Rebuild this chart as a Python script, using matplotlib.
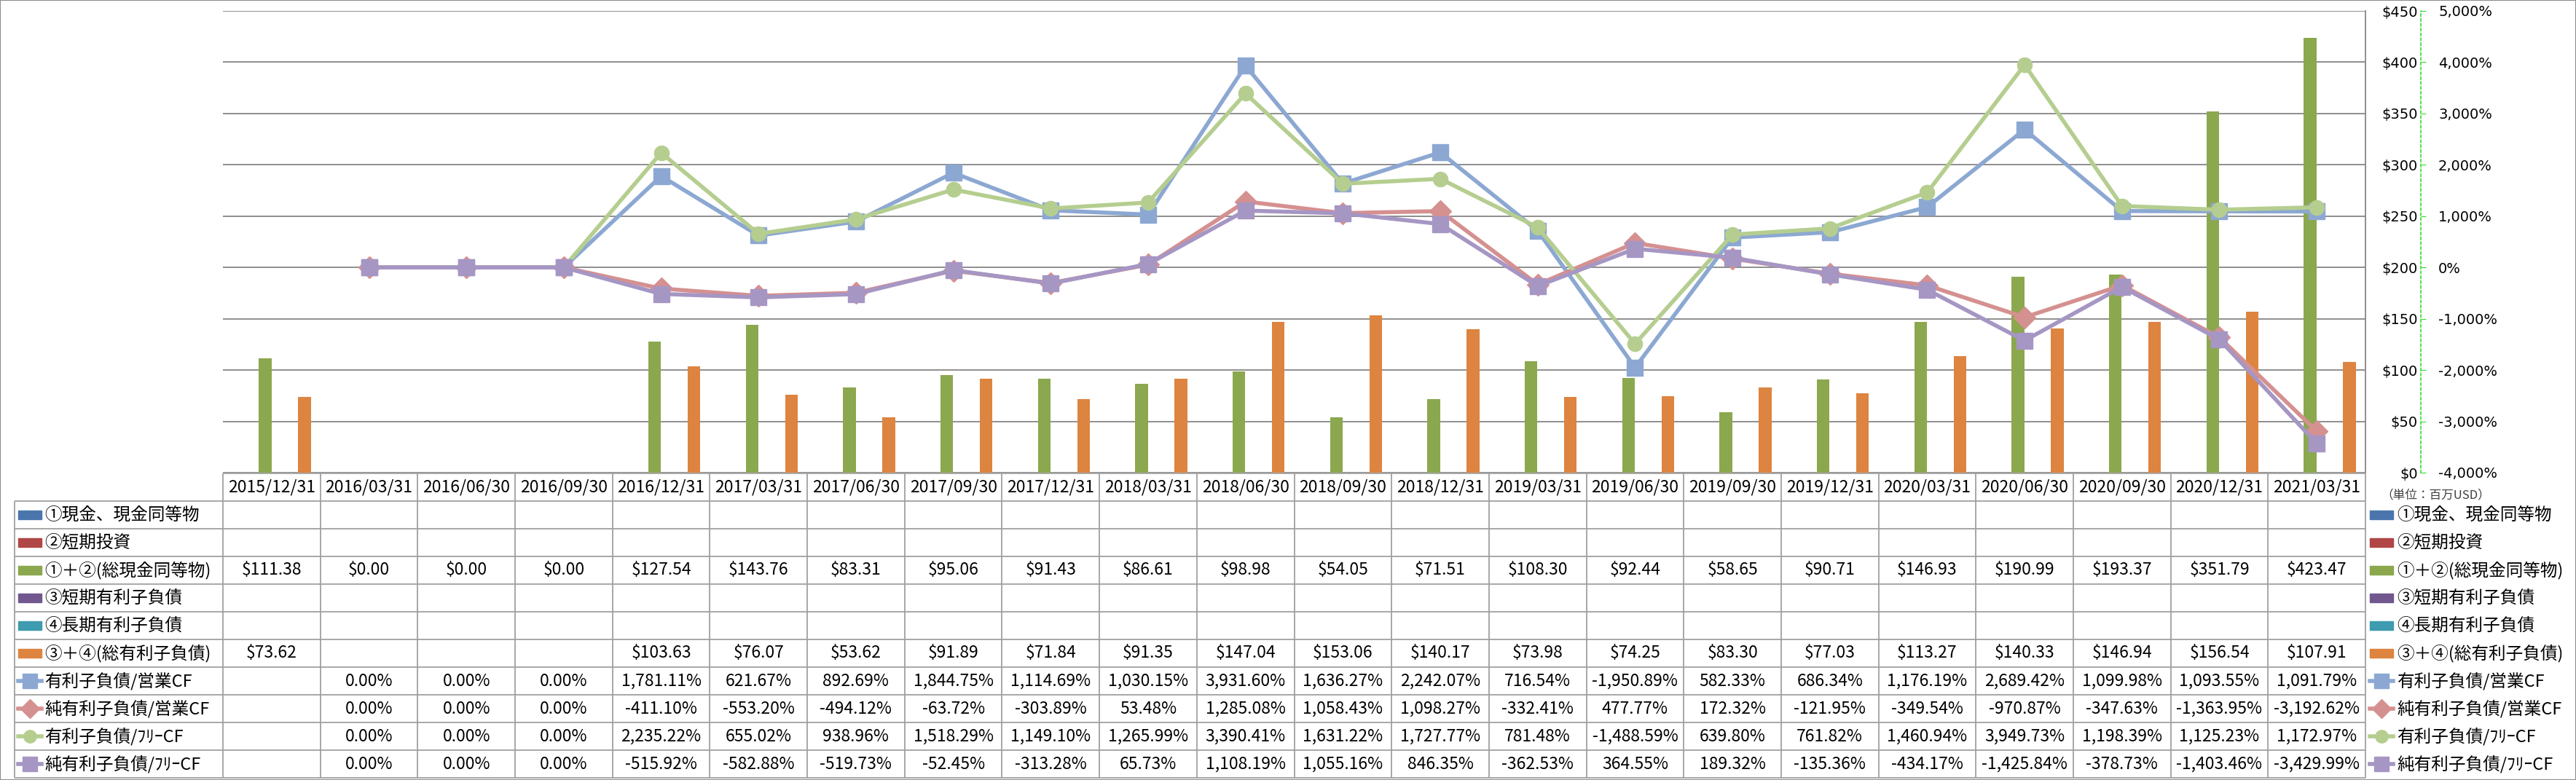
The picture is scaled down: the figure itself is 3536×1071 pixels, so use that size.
import numpy as np
import matplotlib
matplotlib.use("Agg")
import matplotlib.pyplot as plt
from matplotlib.patches import Rectangle
from matplotlib.ticker import FuncFormatter

# データ (単位: 百万USD, %)
dates = ["2015/12/31", "2016/03/31", "2016/06/30", "2016/09/30", "2016/12/31",
         "2017/03/31", "2017/06/30", "2017/09/30", "2017/12/31", "2018/03/31",
         "2018/06/30", "2018/09/30", "2018/12/31", "2019/03/31", "2019/06/30",
         "2019/09/30", "2019/12/31", "2020/03/31", "2020/06/30", "2020/09/30",
         "2020/12/31", "2021/03/31"]
N = None
cash = [N] * 22
short_inv = [N] * 22
cash_total = [111.38, 0.00, 0.00, 0.00, 127.54, 143.76, 83.31, 95.06, 91.43, 86.61,
              98.98, 54.05, 71.51, 108.30, 92.44, 58.65, 90.71, 146.93, 190.99,
              193.37, 351.79, 423.47]
short_debt = [N] * 22
long_debt = [N] * 22
debt_total = [73.62, N, N, N, 103.63, 76.07, 53.62, 91.89, 71.84, 91.35, 147.04,
              153.06, 140.17, 73.98, 74.25, 83.30, 77.03, 113.27, 140.33, 146.94,
              156.54, 107.91]
debt_ocf = [N, 0.00, 0.00, 0.00, 1781.11, 621.67, 892.69, 1844.75, 1114.69, 1030.15,
            3931.60, 1636.27, 2242.07, 716.54, -1950.89, 582.33, 686.34, 1176.19,
            2689.42, 1099.98, 1093.55, 1091.79]
net_debt_ocf = [N, 0.00, 0.00, 0.00, -411.10, -553.20, -494.12, -63.72, -303.89, 53.48,
                1285.08, 1058.43, 1098.27, -332.41, 477.77, 172.32, -121.95, -349.54,
                -970.87, -347.63, -1363.95, -3192.62]
debt_fcf = [N, 0.00, 0.00, 0.00, 2235.22, 655.02, 938.96, 1518.29, 1149.10, 1265.99,
            3390.41, 1631.22, 1727.77, 781.48, -1488.59, 639.80, 761.82, 1460.94,
            3949.73, 1198.39, 1125.23, 1172.97]
net_debt_fcf = [N, 0.00, 0.00, 0.00, -515.92, -582.88, -519.73, -52.45, -313.28, 65.73,
                1108.19, 1055.16, 846.35, -362.53, 364.55, 189.32, -135.36, -434.17,
                -1425.84, -378.73, -1403.46, -3429.99]

bar_names = ["①現金、現金同等物", "②短期投資", "①＋②(総現金同等物)",
             "③短期有利子負債", "④長期有利子負債", "③＋④(総有利子負債)"]
bar_data = [cash, short_inv, cash_total, short_debt, long_debt, debt_total]
bar_colors = ["#4A76AD", "#B04645", "#8BA84E", "#72578F", "#3F9BB0", "#DD8440"]

line_names = ["有利子負債/営業CF", "純有利子負債/営業CF",
              "有利子負債/ﾌﾘｰCF", "純有利子負債/ﾌﾘｰCF"]
line_data = [debt_ocf, net_debt_ocf, debt_fcf, net_debt_fcf]
line_colors = ["#8CA8D2", "#D59090", "#B5CE90", "#A696C4"]
line_markers = ["s", "D", "o", "s"]
line_msize = [16.5, 15.5, 14.5, 16.5]

W, H = 3536, 1071
FONT = ["Noto Sans CJK JP", "DejaVu Sans"]
GRID = "#868686"
TABLINE = "#A0A0A0"
LW = 4.0


def fx(px):
    return px / W


def fy(py):
    return 1 - py / H


def to_float(vals):
    return np.array([np.nan if v is None else v for v in vals], dtype=float)


fig = plt.figure(figsize=(W / 100, H / 100), dpi=100)
fig.patches.append(Rectangle((0, 0), 1, 1, transform=fig.transFigure,
                             fill=False, edgecolor="#8C8C8C", lw=1.5))

left, right, top, bottom = 306, 3247, 15, 649
ax = fig.add_axes([fx(left), fy(bottom), (right - left) / W, (bottom - top) / H])
n = len(dates)
x = np.arange(n)
ax.set_xlim(-0.5, n - 0.5)
ax.set_ylim(0, 450)

# 棒グラフ (6系列のクラスター)
slot = 0.1346
for i, (vals, c) in enumerate(zip(bar_data, bar_colors)):
    off = -3 * slot + (i + 0.5) * slot
    ax.bar(x + off, to_float(vals), width=0.13, color=c, zorder=2)

ax.set_xticks([])
ax.set_yticks(range(0, 451, 50))
ax.yaxis.set_major_formatter(FuncFormatter(lambda v, p: f"${v:,.0f}"))
ax.yaxis.grid(True, color=GRID, lw=1.3)
ax.set_axisbelow(True)
ax.spines["top"].set_visible(False)
ax.spines["bottom"].set_visible(False)
ax.spines["right"].set_color(GRID)
ax.spines["right"].set_linewidth(1.3)
ax.spines["left"].set_position(("axes", (3323 - left) / (right - left)))
ax.spines["left"].set_color("#33DD33")
ax.spines["left"].set_linestyle((0, (2, 2)))
ax.spines["left"].set_linewidth(1.2)
ax.tick_params(axis="y", direction="in", length=5, color="#33DD33", pad=3,
               labelsize=14, labelfontfamily="DejaVu Sans")

# 折れ線 (%軸)
ax2 = ax.twinx()
ax2.set_ylim(-4000, 5000)
pct_ticks = list(range(-4000, 5001, 1000))
ax2.set_yticks(pct_ticks, [f"{v:,.0f}%" for v in pct_ticks])
for t, lab in zip(pct_ticks, ax2.get_yticklabels()):
    lab.set_color("red" if t < 0 else "black")
for s in ax2.spines.values():
    s.set_visible(False)
ax2.spines["right"].set_position(("axes", (3347 - left) / (right - left)))
ax2.tick_params(axis="y", length=0, pad=0, labelsize=14, labelfontfamily="DejaVu Sans")

for vals, c, m, ms in zip(line_data, line_colors, line_markers, line_msize):
    ax2.plot(x, to_float(vals), color=c, lw=LW, marker=m, markersize=ms,
             markerfacecolor=c, markeredgecolor=c, solid_joinstyle="round")

fig.text(fx(3268), fy(680), "（単位：百万USD）", fontsize=12, family=FONT,
         color="#404040", va="center", ha="left")

# データテーブル
tab_top, tab_bot = 650, 1068
tab = fig.add_axes([fx(left), fy(tab_bot), (right - left) / W, (tab_bot - tab_top) / H])
tab.set_xlim(-0.5, n - 0.5)
nrows = 1 + len(bar_names) + len(line_names)
tab.set_ylim(nrows, 0)
tab.axis("off")

unit = (right - left) / n


def px2x(px):
    return (px - left) / unit - 0.5


lab_left = px2x(20)
tab.hlines(0, -0.5, n - 0.5, color=TABLINE, lw=1.3, clip_on=False)
tab.hlines(range(1, nrows + 1), lab_left, n - 0.5, color=TABLINE, lw=1.3, clip_on=False)
tab.vlines(np.arange(n + 1) - 0.5, 0, nrows, color=TABLINE, lw=1.3, clip_on=False)
tab.vlines(lab_left, 1, nrows, color=TABLINE, lw=1.3, clip_on=False)

for i, d in enumerate(dates):
    tab.text(i, 0.5, d, ha="center", va="center", fontsize=16.5, family=FONT)

rows = [(nm, vals, "$") for nm, vals in zip(bar_names, bar_data)] + \
       [(nm, vals, "%") for nm, vals in zip(line_names, line_data)]
for r, (nm, vals, kind) in enumerate(rows):
    yc = r + 1.5
    for i, v in enumerate(vals):
        if v is None:
            continue
        s = f"${v:,.2f}" if kind == "$" else f"{v:,.2f}%"
        tab.text(i, yc, s, ha="center", va="center", fontsize=16.5, family=FONT)


def draw_key(k, x0px, yc):
    xa, xb = px2x(x0px), px2x(x0px + 32)
    if k < len(bar_names):
        tab.add_patch(Rectangle((xa, yc - 0.15), xb - xa, 0.3, color=bar_colors[k],
                                clip_on=False))
    else:
        j = k - len(bar_names)
        tab.plot([xa, xb], [yc, yc], color=line_colors[j], lw=LW, clip_on=False)
        tab.plot([(xa + xb) / 2], [yc], marker=line_markers[j], color=line_colors[j],
                 markersize=line_msize[j] - 2, clip_on=False)


for r, (nm, vals, kind) in enumerate(rows):
    yc = r + 1.5
    draw_key(r, 25, yc)
    tab.text(px2x(61), yc, nm, ha="left", va="center", fontsize=17, family=FONT,
             clip_on=False)
    draw_key(r, 3253, yc)
    tab.text(px2x(3290), yc, nm, ha="left", va="center", fontsize=17, family=FONT,
             clip_on=False)

fig.savefig("out.png", dpi=100, facecolor="white")
